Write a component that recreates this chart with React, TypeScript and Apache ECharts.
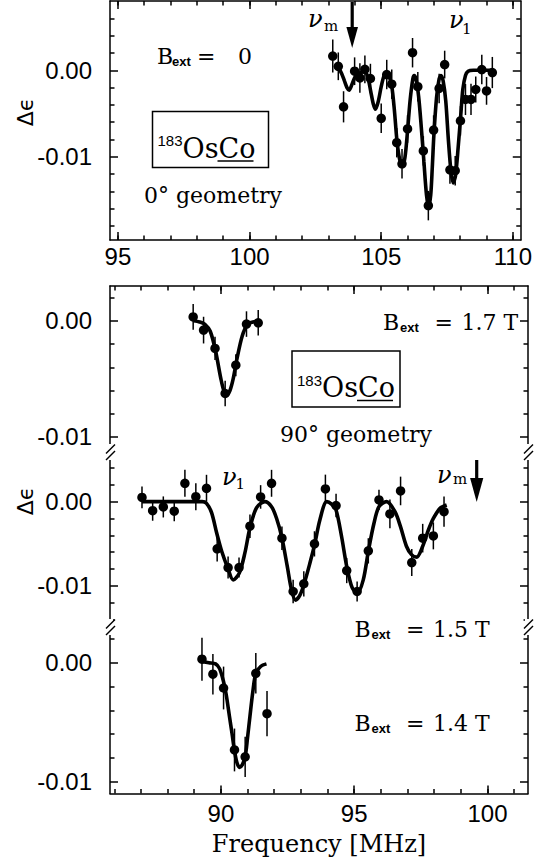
import React, { useEffect, useRef } from 'react';
import * as echarts from 'echarts';

// ---------- B_ext = 0, 0° geometry ----------
const zeroFreq = [103.16, 103.37, 103.57, 103.99, 104.19, 104.38, 104.59, 105.0, 105.21, 105.4, 105.59, 105.79, 106.0, 106.19, 106.39, 106.6, 106.79, 106.99, 107.2, 107.41, 107.61, 107.81, 108.01, 108.2, 108.41, 108.59, 108.82, 109.0, 109.22];
const zeroDelta = [0.00164, 0.00046, -0.00422, -0.00011, -0.00089, 0.00011, -0.00095, -0.00555, -0.00049, -0.00161, -0.00836, -0.0108, -0.00678, 0.00203, -0.0019, -0.00931, -0.01563, -0.0069, -0.0021, 0.00066, -0.0115, -0.0116, -0.00583, -0.00337, -0.00337, -0.00222, 0.00008, -0.00238, -0.00026];
const zeroErr = [0.0019, 0.0016, 0.0018, 0.0016, 0.0017, 0.0016, 0.0017, 0.0017, 0.0017, 0.0017, 0.0017, 0.0017, 0.0016, 0.0017, 0.0017, 0.0017, 0.0017, 0.0017, 0.0017, 0.0016, 0.0016, 0.0017, 0.0017, 0.0018, 0.0018, 0.0015, 0.0017, 0.0016, 0.0018];
const zeroFitFreq = [103.37, 103.5, 103.6, 103.7, 103.78, 103.88, 104.0, 104.1, 104.2, 104.3, 104.4, 104.5, 104.6, 104.7, 104.78, 104.88, 105.0, 105.1, 105.2, 105.3, 105.4, 105.5, 105.6, 105.7, 105.8, 105.9, 106.0, 106.1, 106.2, 106.25, 106.32, 106.42, 106.52, 106.62, 106.72, 106.8, 106.88, 106.94, 107.0, 107.1, 107.2, 107.27, 107.35, 107.45, 107.55, 107.65, 107.73, 107.82, 107.92, 108.02, 108.1, 108.2, 108.3, 108.5, 109.25];
const zeroFitDelta = [0.0004, -0.0004, -0.0012, -0.002, -0.0023, -0.0017, -0.0008, -0.0004, -0.0003, -0.0002, -0.0002, -0.0009, -0.0024, -0.0039, -0.0045, -0.0037, -0.0019, -0.0007, -0.0003, -0.0007, -0.0018, -0.0046, -0.0082, -0.0103, -0.0111, -0.0101, -0.007, -0.0034, -0.001, -0.0006, -0.001, -0.003, -0.0065, -0.0105, -0.0144, -0.0158, -0.0144, -0.0112, -0.0075, -0.0032, -0.001, -0.0006, -0.0012, -0.0035, -0.008, -0.0117, -0.013, -0.0122, -0.009, -0.0052, -0.0022, -0.0006, -0.0001, 0, 0];

// ---------- 90° geometry, B_ext = 1.7 T ----------
const t17Freq = [88.96, 89.35, 89.78, 90.16, 90.56, 90.96, 91.4];
const t17Delta = [0.00034, -0.0008, -0.00238, -0.00626, -0.00382, -0.00028, -0.00017];
const t17Err = [0.0011, 0.00115, 0.001, 0.0011, 0.00095, 0.0011, 0.0011];
const t17FitFreq = [88.98, 89.2, 89.4, 89.6, 89.8, 90.0, 90.12, 90.22, 90.34, 90.46, 90.6, 90.8, 91.0, 91.2, 91.4];
const t17FitDelta = [0, -0.0001, -0.0003, -0.0009, -0.0026, -0.005, -0.0061, -0.0064, -0.006, -0.005, -0.0033, -0.0013, -0.0003, -0.0001, 0];

// ---------- 90° geometry, B_ext = 1.5 T ----------
const t15Freq = [87.04, 87.44, 87.84, 88.25, 88.65, 89.06, 89.46, 89.86, 90.27, 90.68, 91.09, 91.49, 91.9, 92.29, 92.71, 93.11, 93.51, 93.92, 94.32, 94.72, 95.11, 95.53, 95.93, 96.34, 96.74, 97.16, 97.57, 97.97, 98.37];
const t15Delta = [0.0005, -0.00107, -0.00063, -0.00114, 0.00218, 0.00059, 0.00159, -0.00561, -0.00783, -0.00783, -0.00292, 0.00056, 0.00218, -0.00434, -0.01068, -0.00976, -0.00502, 0.00151, -0.00047, -0.00819, -0.01068, -0.00585, 0.0002, -0.00146, 0.00127, -0.00724, -0.00434, -0.00407, -0.00119];
const t15Err = [0.0013, 0.0012, 0.00125, 0.0012, 0.0016, 0.0016, 0.0016, 0.0015, 0.0013, 0.0012, 0.0014, 0.0014, 0.0016, 0.0014, 0.0014, 0.0015, 0.0015, 0.0017, 0.0014, 0.0015, 0.0012, 0.0015, 0.0012, 0.0017, 0.0017, 0.0016, 0.0017, 0.0016, 0.0018];
const t15FitFreq = [87.04, 88.0, 89.0, 89.3, 89.46, 89.65, 89.84, 90.03, 90.27, 90.46, 90.69, 90.9, 91.09, 91.34, 91.65, 91.9, 92.09, 92.29, 92.49, 92.65, 92.8, 92.95, 93.11, 93.34, 93.53, 93.71, 93.97, 94.15, 94.32, 94.53, 94.72, 94.92, 95.11, 95.34, 95.53, 95.74, 95.93, 96.22, 96.53, 96.74, 96.96, 97.15, 97.34, 97.57, 97.78, 97.97, 98.22, 98.47];
const t15FitDelta = [0, 0, 0, 0, -0.0002, -0.0013, -0.0037, -0.0059, -0.008, -0.0093, -0.0085, -0.0061, -0.0031, -0.0007, 0, -0.0006, -0.002, -0.0043, -0.0077, -0.0105, -0.0117, -0.0112, -0.0099, -0.0073, -0.0049, -0.0022, 0, -0.0003, -0.001, -0.0042, -0.0077, -0.0102, -0.0109, -0.0093, -0.0059, -0.0026, -0.0006, 0, -0.0012, -0.003, -0.0053, -0.0063, -0.0066, -0.0053, -0.0034, -0.002, -0.0008, -0.0004];

// ---------- 90° geometry, B_ext = 1.4 T ----------
const t14Freq = [89.29, 89.7, 90.1, 90.51, 90.91, 91.31, 91.73];
const t14Delta = [0.00029, -0.00097, -0.00213, -0.00734, -0.00792, -0.00089, -0.00429];
const t14Err = [0.0018, 0.0017, 0.0018, 0.0018, 0.0017, 0.0017, 0.0019];
const t14FitFreq = [89.29, 89.55, 89.8, 89.95, 90.1, 90.2, 90.32, 90.42, 90.51, 90.6, 90.7, 90.8, 90.91, 91.0, 91.09, 91.2, 91.31, 91.5, 91.71];
const t14FitDelta = [0.0001, 0, -0.0001, -0.0005, -0.0016, -0.0027, -0.0045, -0.006, -0.0074, -0.0084, -0.0088, -0.0086, -0.0079, -0.0063, -0.0045, -0.0024, -0.0009, -0.0003, -0.0001];

// ---------- axis ranges and ticks ----------
const zeroXRange = [94.7, 110.3];
const zeroYRange = [-0.0196, 0.008];
const lowerXRange = [85.84, 101.52];
const t17YRange = [-0.0113, 0.003];
const t15YRange = [-0.0149, 0.0059];
const t14YRange = [-0.011, 0.003];

const zeroXMajor = [95, 100, 105, 110];
const zeroXMinor = [95, 96, 97, 98, 99, 100, 101, 102, 103, 104, 105, 106, 107, 108, 109, 110];
const lowerXMajor = [90, 95, 100];
const lowerXMinor = [86, 87, 88, 89, 90, 91, 92, 93, 94, 95, 96, 97, 98, 99, 100, 101];
const yMajor = [0, -0.01];
const zeroYMinor = [0.006, 0.004, 0.002, -0.002, -0.004, -0.006, -0.008, -0.012, -0.014, -0.016, -0.018];
const t17YMinor = [0.002, -0.002, -0.004, -0.006, -0.008];
const t15YMinor = [0.004, 0.002, -0.002, -0.004, -0.006, -0.008, -0.012, -0.014];
const t14YMinor = [0.002, -0.002, -0.004, -0.006, -0.008];

const SANS = '"Liberation Sans", Arial, sans-serif';
const SERIF = '"DejaVu Serif", serif';
const INK = '#000';
const AXIS_LINE = { color: INK, width: 1.5 };

function xAxes(grid: number, range: number[], majors: number[], minors: number[], bottom: boolean, top: boolean, labels: boolean, margin: number) {
  const mk = (position: string, major: boolean, show: boolean) => ({
    type: 'value',
    gridIndex: grid,
    position,
    min: range[0],
    max: range[1],
    splitLine: { show: false },
    axisLine: { show: major && show, onZero: false, lineStyle: AXIS_LINE },
    axisTick: { show, inside: true, length: major ? 8 : 4.5, customValues: major ? majors : minors, lineStyle: AXIS_LINE },
    axisLabel: {
      show: major && position === 'bottom' && labels,
      customValues: majors,
      margin,
      color: INK,
      fontFamily: SANS,
      fontSize: 24,
      formatter: (v: number) => String(v),
    },
  });
  return [mk('bottom', true, bottom), mk('bottom', false, bottom), mk('top', true, top), mk('top', false, top)];
}

function yAxes(grid: number, range: number[], minors: number[]) {
  const mk = (position: string, major: boolean) => ({
    type: 'value',
    gridIndex: grid,
    position,
    min: range[0],
    max: range[1],
    splitLine: { show: false },
    axisLine: { show: major, onZero: false, lineStyle: AXIS_LINE },
    axisTick: { show: true, inside: true, length: major ? 8 : 4.5, customValues: major ? yMajor : minors, lineStyle: AXIS_LINE },
    axisLabel: {
      show: major && position === 'left',
      customValues: yMajor,
      margin: 18,
      color: INK,
      fontFamily: SANS,
      fontSize: 24,
      formatter: (v: number) => v.toFixed(2),
    },
  });
  return [mk('left', true), mk('left', false), mk('right', true), mk('right', false)];
}

const errorBar = (_params: any, api: any) => {
  const f = api.value(0);
  const v = api.value(1);
  const e = api.value(2);
  const lo = api.coord([f, v - e]);
  const hi = api.coord([f, v + e]);
  return {
    type: 'line',
    shape: { x1: lo[0], y1: lo[1], x2: hi[0], y2: hi[1] },
    style: { stroke: INK, lineWidth: 1.5 },
  };
};

function panelSeries(panel: number, freq: number[], delta: number[], err: number[], fitF: number[], fitD: number[]) {
  const ax = panel * 4;
  return [
    {
      type: 'custom',
      xAxisIndex: ax,
      yAxisIndex: ax,
      renderItem: errorBar,
      encode: { x: 0, y: 1 },
      data: freq.map((f, i) => [f, delta[i], err[i]]),
      silent: true,
      z: 2,
    },
    {
      type: 'line',
      xAxisIndex: ax,
      yAxisIndex: ax,
      data: fitF.map((f, i) => [f, fitD[i]]),
      smooth: 0.3,
      symbol: 'none',
      lineStyle: { color: INK, width: 3.6 },
      silent: true,
      z: 3,
    },
    {
      type: 'scatter',
      xAxisIndex: ax,
      yAxisIndex: ax,
      data: freq.map((f, i) => [f, delta[i]]),
      symbolSize: 9.5,
      itemStyle: { color: INK, opacity: 1 },
      silent: true,
      z: 4,
    },
  ];
}

function label(text: string, x: number, y: number, font: string, align = 'left', rotation = 0) {
  return {
    type: 'text',
    z: 50,
    x,
    y,
    rotation,
    silent: true,
    style: { text, x: 0, y: 0, font, fill: INK, align, verticalAlign: 'middle', textAlign: align, textVerticalAlign: 'middle' },
  };
}

const MAIN = `22px ${SERIF}`;
const SUB = `bold 13px ${SANS}`;
const NU = `italic 24px ${SERIF}`;
const NU_SUB = `15px ${SERIF}`;

function fieldLabel(pos: number[], value: string) {
  const [xb, xs, xe, xv, y] = pos;
  return [label('B', xb, y, MAIN), label('ext', xs, y + 5.5, SUB), label('=', xe, y, MAIN), label(value, xv, y, MAIN)];
}

function nuLabel(x: number, y: number, sub: string, subX: number, subY: number) {
  return [label('ν', x, y, NU), label(sub, subX, subY, NU_SUB)];
}

// boxed sample name: superscript mass number, compound, underlined host
function sampleBox(left: number, top: number, width: number) {
  return [
    { type: 'rect', z: 50, silent: true, shape: { x: left, y: top, width, height: 56 }, style: { fill: 'none', stroke: INK, lineWidth: 1.5 } },
    label('183', left + 5, top + 29, `15px ${SANS}`),
    label('OsCo', left + 30, top + 36.5, `27px ${SERIF}`),
    { type: 'line', z: 50, silent: true, shape: { x1: left + 65, y1: top + 49.5, x2: left + 101, y2: top + 49.5 }, style: { stroke: INK, lineWidth: 1.5 } },
  ];
}

function arrow(x: number, yTop: number, yHead: number, yTip: number, half: number) {
  return [
    { type: 'rect', z: 50, silent: true, shape: { x: x - 1.6, y: yTop, width: 3.2, height: yHead - yTop + 1 }, style: { fill: INK } },
    { type: 'polygon', z: 50, silent: true, shape: { points: [[x - half, yHead], [x + half, yHead], [x, yTip]] }, style: { fill: INK } },
  ];
}

function axisBreak(x0: number, y0: number) {
  return [
    { type: 'rect', z: 60, silent: true, shape: { x: x0 - 3, y: y0 - 8, width: 6, height: 16 }, style: { fill: '#fff' } },
    { type: 'line', z: 61, silent: true, shape: { x1: x0 - 4, y1: y0 + 1.5, x2: x0 + 5, y2: y0 - 7.5 }, style: { stroke: INK, lineWidth: 1.5 } },
    { type: 'line', z: 61, silent: true, shape: { x1: x0 - 4, y1: y0 + 8, x2: x0 + 5, y2: y0 - 1 }, style: { stroke: INK, lineWidth: 1.5 } },
  ];
}

function buildOption() {
  const grid = [
    { left: 110, top: 1, width: 418, height: 239 },
    { left: 110, top: 286, width: 418, height: 166 },
    { left: 110, top: 452, width: 418, height: 175 },
    { left: 110, top: 627, width: 418, height: 166.5 },
  ];
  const xAxis = [
    ...xAxes(0, zeroXRange, zeroXMajor, zeroXMinor, true, true, true, 4),
    ...xAxes(1, lowerXRange, lowerXMajor, lowerXMinor, false, true, false, 10),
    ...xAxes(2, lowerXRange, lowerXMajor, lowerXMinor, false, false, false, 10),
    ...xAxes(3, lowerXRange, lowerXMajor, lowerXMinor, true, false, true, 8),
  ];
  const yAxis = [
    ...yAxes(0, zeroYRange, zeroYMinor),
    ...yAxes(1, t17YRange, t17YMinor),
    ...yAxes(2, t15YRange, t15YMinor),
    ...yAxes(3, t14YRange, t14YMinor),
  ];
  const series = [
    ...panelSeries(0, zeroFreq, zeroDelta, zeroErr, zeroFitFreq, zeroFitDelta),
    ...panelSeries(1, t17Freq, t17Delta, t17Err, t17FitFreq, t17FitDelta),
    ...panelSeries(2, t15Freq, t15Delta, t15Err, t15FitFreq, t15FitDelta),
    ...panelSeries(3, t14Freq, t14Delta, t14Err, t14FitFreq, t14FitDelta),
  ];
  const graphic = [
    label('Δϵ', 25, 112, `22px "DejaVu Sans", sans-serif`, 'center', Math.PI / 2),
    label('Δϵ', 25, 501, `22px "DejaVu Sans", sans-serif`, 'center', Math.PI / 2),
    label('Frequency [MHz]', 319, 844, `24px ${SERIF}`, 'center'),
    ...fieldLabel([157, 172, 197, 238, 56], '0'),
    ...fieldLabel([383, 400, 434.5, 461.5, 322], '1.7 T'),
    ...fieldLabel([354.5, 371.5, 406, 433, 629], '1.5 T'),
    ...fieldLabel([354.5, 371.5, 406, 433, 723], '1.4 T'),
    ...nuLabel(308, 19, 'm', 324, 26),
    ...nuLabel(449, 20, '1', 462, 29),
    ...nuLabel(222, 476.5, '1', 235.5, 483.5),
    ...nuLabel(437, 474.5, 'm', 453, 478.5),
    ...arrow(352.2, 2, 27, 48, 5.8),
    ...arrow(476.7, 460, 478, 502, 6.6),
    ...sampleBox(152.5, 111.5, 116),
    ...sampleBox(292, 351, 108),
    label('0° geometry', 213, 195, MAIN, 'center'),
    label('90° geometry', 356, 434, MAIN, 'center'),
    ...axisBreak(110, 452),
    ...axisBreak(528, 452),
    ...axisBreak(110, 627),
    ...axisBreak(528, 627),
  ];
  return {
    animation: false,
    backgroundColor: '#fff',
    grid,
    xAxis,
    yAxis,
    series,
    graphic: { elements: graphic },
  };
}

export default function App() {
  const ref = useRef<HTMLDivElement>(null);
  useEffect(() => {
    document.body.style.margin = '0';
    const chart = echarts.init(ref.current as HTMLDivElement, null, { renderer: 'svg' });
    chart.setOption(buildOption() as any);
    return () => chart.dispose();
  }, []);
  return <div ref={ref} style={{ width: 535, height: 859 }} />;
}
